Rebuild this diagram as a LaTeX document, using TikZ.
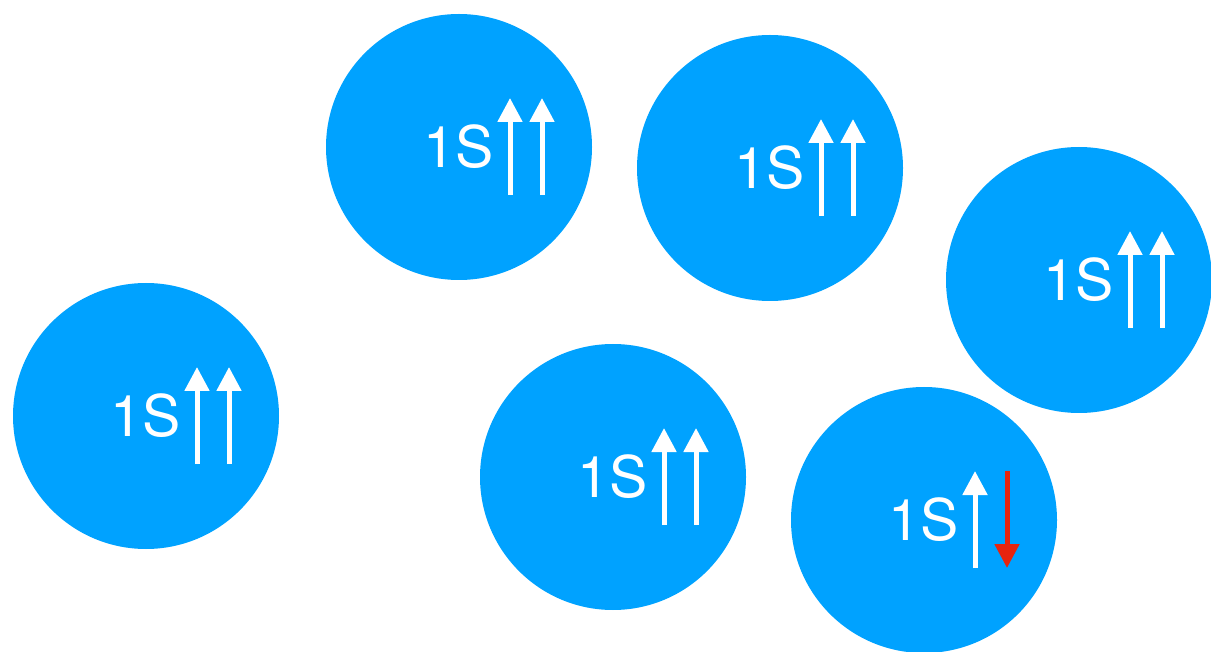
\documentclass[tikz,border=0pt]{standalone}
\usepackage{fontspec}
\setmainfont{TeX Gyre Heros}
\usetikzlibrary{arrows.meta,calc}
\definecolor{atomblue}{RGB}{0,162,255}
\definecolor{spinred}{RGB}{232,36,14}
\begin{document}
\begin{tikzpicture}[x=0.75pt,y=-0.75pt,
  atom/.style={circle,fill=atomblue,draw=none,minimum size=199.5pt,inner sep=0pt},
  orb/.style={text=white,font=\fontsize{43}{43}\selectfont,inner sep=0pt},
  spin/.style={line width=3.75pt,-{Triangle[width=18pt,length=18pt]}},
  spinup/.style={spin,draw=white,fill=white},
  spindown/.style={spin,draw=spinred,fill=spinred}]
\useasboundingbox (0,0) rectangle (1211,652);
\foreach \n/\cx/\cy in {a/459/147, b/770/168, c/1079/280, d/146/416, e/613/477} {
  \node[atom] (\n) at (\cx,\cy) {};
  \node[orb] (\n t) at (\cx,\cy) {1S};
  \coordinate (\n1b) at ($(\n)+(51,48)$);
  \coordinate (\n1t) at ($(\n)+(51,-49)$);
  \coordinate (\n2b) at ($(\n)+(83,48)$);
  \coordinate (\n2t) at ($(\n)+(83,-49)$);
  \draw[spinup] (\n1b) -- (\n1t);
  \draw[spinup] (\n2b) -- (\n2t);
}
\node[atom] (f) at (924,520) {};
\node[orb] (ft) at (924,520) {1S};
\coordinate (f1b) at (975,568);
\coordinate (f1t) at (975,471);
\coordinate (f2t) at (1007,471);
\coordinate (f2b) at (1007,568);
\draw[spinup] (f1b) -- (f1t);
\draw[spindown] (f2t) -- (f2b);
\end{tikzpicture}
\end{document}
